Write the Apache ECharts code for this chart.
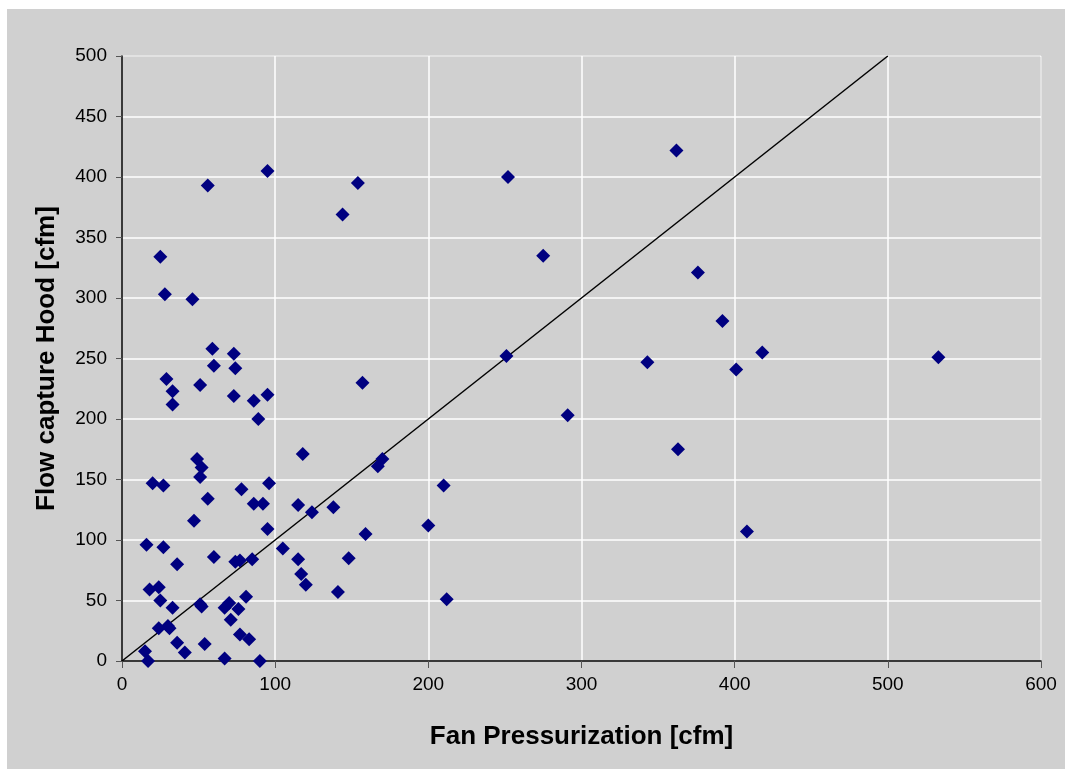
<!DOCTYPE html>
<html>
<head>
<meta charset="utf-8">
<script src="https://cdn.jsdelivr.net/npm/echarts@6/dist/echarts.min.js"></script>
<style>
  html, body { margin: 0; padding: 0; background: #ffffff; }
  #bg { position: absolute; left: 7px; top: 9px; width: 1058px; height: 760px; background: #d0d0d0; }
  #chart { position: absolute; left: 0; top: 0; width: 1065px; height: 769px; }
</style>
</head>
<body>
<div id="bg"></div>
<div id="chart"></div>
<script>
// fan pressurization (x) vs flow capture hood (y), cfm
const fanX = [25, 28, 46, 56, 95, 144, 154, 252, 362, 275, 376, 392, 343, 401, 418, 533, 251, 291, 363, 408,
  157, 29, 33, 33, 59, 60, 51, 73, 74, 73, 86, 95, 89, 118, 49, 52, 51, 20, 27, 78,
  96, 56, 86, 92, 115, 47, 95, 16, 27, 105, 36, 60, 74, 77, 85, 115, 117, 18, 24, 25,
  33, 51, 52, 70, 67, 76, 81, 71, 77, 83, 24, 30, 31, 36, 41, 54, 15, 17, 67, 90,
  170, 167, 210, 124, 138, 200, 159, 148, 120, 141, 212]
const hoodY = [334, 303, 299, 393, 405, 369, 395, 400, 422, 335, 321, 281, 247, 241, 255, 251, 252, 203, 175, 107,
  230, 233, 223, 212, 258, 244, 228, 254, 242, 219, 215, 220, 200, 171, 167, 160, 152, 147, 145, 142,
  147, 134, 130, 130, 129, 116, 109, 96, 94, 93, 80, 86, 82, 83, 84, 84, 72, 59, 61, 50,
  44, 47, 45, 48, 44, 43, 53, 34, 22, 18, 27, 29, 27, 15, 7, 14, 8, 0, 2, 0,
  167, 161, 145, 123, 127, 112, 105, 85, 63, 57, 51]
const oneToOne = [[0, 0], [500, 500]]

const points = []
for (let i = 0; i < fanX.length; i++) {
  points.push([fanX[i], hoodY[i]])
}

const myChart = echarts.init(document.getElementById('chart'))

myChart.setOption({
  backgroundColor: 'transparent',
  animation: false,
  textStyle: { fontFamily: 'Liberation Sans' },
  grid: {
    left: 122,
    top: 56,
    right: 24,
    bottom: 108,
    show: true,
    backgroundColor: '#d0d0d0',
    borderColor: '#4a4a4a',
    borderWidth: 1,
  },
  xAxis: {
    type: 'value',
    min: 0,
    max: 600,
    interval: 100,
    name: 'Fan Pressurization [cfm]',
    nameLocation: 'middle',
    nameGap: 63,
    nameTextStyle: { fontSize: 26, fontWeight: 'bold', color: '#000' },
    axisLine: { show: true, onZero: false, lineStyle: { color: '#000', width: 1.5 } },
    axisTick: { show: true, inside: false, length: 7, lineStyle: { color: '#555' } },
    axisLabel: { fontSize: 19, color: '#000', margin: 14 },
    splitLine: { show: true, lineStyle: { color: '#ffffff', width: 1.5 } },
  },
  yAxis: {
    type: 'value',
    min: 0,
    max: 500,
    interval: 50,
    name: 'Flow capture Hood [cfm]',
    nameLocation: 'middle',
    nameGap: 62,
    nameTextStyle: { fontSize: 26, fontWeight: 'bold', color: '#000' },
    axisLine: { show: true, onZero: false, lineStyle: { color: '#000', width: 1.5 } },
    axisTick: { show: true, inside: false, length: 6, lineStyle: { color: '#555' } },
    axisLabel: { fontSize: 19, color: '#000', margin: 15 },
    splitLine: { show: true, lineStyle: { color: '#ffffff', width: 1.5 } },
  },
  series: [
    {
      type: 'line',
      data: oneToOne,
      symbol: 'none',
      lineStyle: { color: '#000', width: 1.5 },
      z: 2,
      silent: true,
    },
    {
      type: 'scatter',
      data: points,
      symbol: 'diamond',
      symbolSize: 14,
      itemStyle: { color: '#000080', opacity: 1 },
      z: 3,
    },
  ]
})
</script>
</body>
</html>
